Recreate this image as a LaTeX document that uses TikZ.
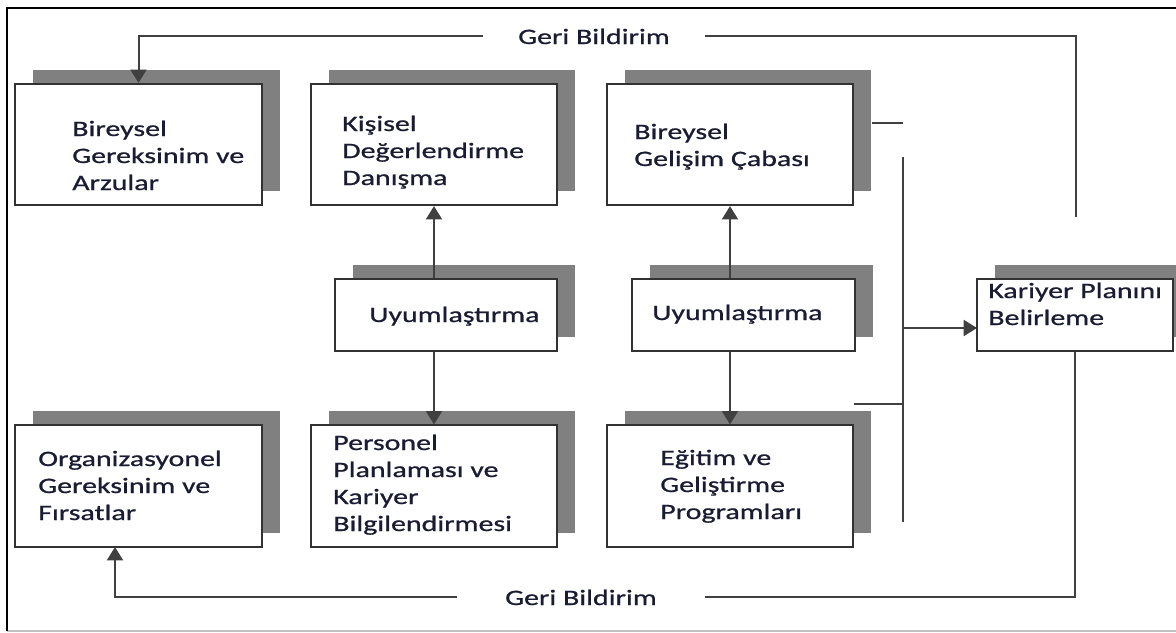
\documentclass[tikz,border=0pt]{standalone}
\usepackage{fontspec}
\setmainfont[FakeStretch=1.36, FakeBold=0.8]{Carlito}
\usetikzlibrary{shadows,arrows.meta}
\definecolor{golge}{RGB}{128,128,128}
\definecolor{kenar}{RGB}{50,50,50}
\definecolor{cizgi}{RGB}{64,64,64}
\definecolor{yazirenk}{RGB}{25,28,50}
\begin{document}
\begin{tikzpicture}[x=0.75pt, y=-0.75pt,
    kutu/.style={draw=kenar, line width=1.4pt, fill=white,
        general shadow={fill=golge, shadow xshift=13.5pt, shadow yshift=10.5pt}},
    buyuk/.style={kutu, minimum width=185pt, minimum height=91pt},
    kucuk/.style={kutu, minimum width=167pt, minimum height=54pt},
    yazi/.style={font=\fontsize{16.5}{20.25}\selectfont, text=yazirenk,
        align=left, inner sep=0pt, anchor=base west},
    geri/.style={font=\fontsize{16.5}{20.25}\selectfont, text=yazirenk,
        inner ysep=0pt, anchor=base},
    ok/.style={draw=cizgi, line width=1.5pt},
    okucu/.style={ok, -{Triangle[length=10pt, width=12pt]}}]

    \useasboundingbox (0,0) rectangle (1176,632);
    \clip (0,0) rectangle (1176,632);

    % cerceve
    \draw[golge!50, line width=1pt] (7,631) -- (1176,631);
    \draw[black, line width=2pt] (7,631) -- (7,8) -- (1176,8);

    % ust sira
    \node[buyuk] (bireysel) at (138.5,144.5) {};
    \node[buyuk] (kisisel) at (434,144.5) {};
    \node[buyuk] (gelisim) at (730,144.5) {};

    % orta sira
    \node[kucuk] (uyum1) at (446,315) {};
    \node[kucuk] (uyum2) at (743.5,315) {};
    \node[kutu,
        minimum width=147pt,
        minimum height=54pt] (kariyer) at (1075,315) {};

    % alt sira
    \node[buyuk] (organizasyon) at (138.5,486) {};
    \node[buyuk] (personel) at (434,486) {};
    \node[buyuk] (egitim) at (730,486) {};

    % yazilar (son satirin tabani)
    \node[yazi] (t1) at (72,190) {Bireysel\\Gereksinim ve\\Arzular};
    \node[yazi] (t2) at (342,185) {Kişisel\\Değerlendirme\\Danışma};
    \node[yazi] (t3) at (634,166) {Bireysel\\Gelişim Çabası};
    \node[yazi] (t4) at (369,322) {Uyumlaştırma};
    \node[yazi] (t5) at (652,320) {Uyumlaştırma};
    \node[yazi] (t6) at (988,325) {Kariyer Planını\\Belirleme};
    \node[yazi] (t7) at (38,520) {Organizasyonel\\Gereksinim ve\\Fırsatlar};
    \node[yazi] (t8) at (333,531) {Personel\\Planlaması ve\\Kariyer\\Bilgilendirmesi};
    \node[yazi] (t9) at (660,519) {Eğitim ve\\Geliştirme\\Programları};

    \node[geri, inner xsep=26pt] (geri1) at (594,44) {Geri Bildirim};
    \node[geri, inner xsep=36pt] (geri2) at (581,605) {Geri Bildirim};

    % geri bildirim oklari
    \coordinate (ust) at (1076,217);
    \coordinate (orgok) at (115,547);
    \draw[ok] (ust) |- (geri1.east);
    \draw[okucu] (geri1.west) -| (bireysel.north);
    \draw[ok] (kariyer.south) |- (geri2.east);
    \draw[okucu] (geri2.west) -| (orgok);

    % uyumlastirma oklari
    \draw[okucu] (kisisel.south |- uyum1.north) -- (kisisel.south);
    \draw[okucu] (kisisel.south |- uyum1.south) -- (personel.north);
    \draw[okucu] (gelisim.south |- uyum2.north) -- (gelisim.south);
    \draw[okucu] (gelisim.south |- uyum2.south) -- (egitim.north);

    % sag taraf
    \coordinate (dal1) at (872,123);
    \coordinate (dal2) at (854,404);
    \coordinate (bus1) at (903,157);
    \coordinate (bus2) at (903,522);
    \coordinate (kok) at (977,328);
    \draw[ok] (dal1) -- (dal1 -| bus1);
    \draw[ok] (dal2) -- (dal2 -| bus1);
    \draw[ok] (bus1) -- (bus2);
    \draw[okucu] (kok -| bus1) -- (kok);

\end{tikzpicture}
\end{document}
